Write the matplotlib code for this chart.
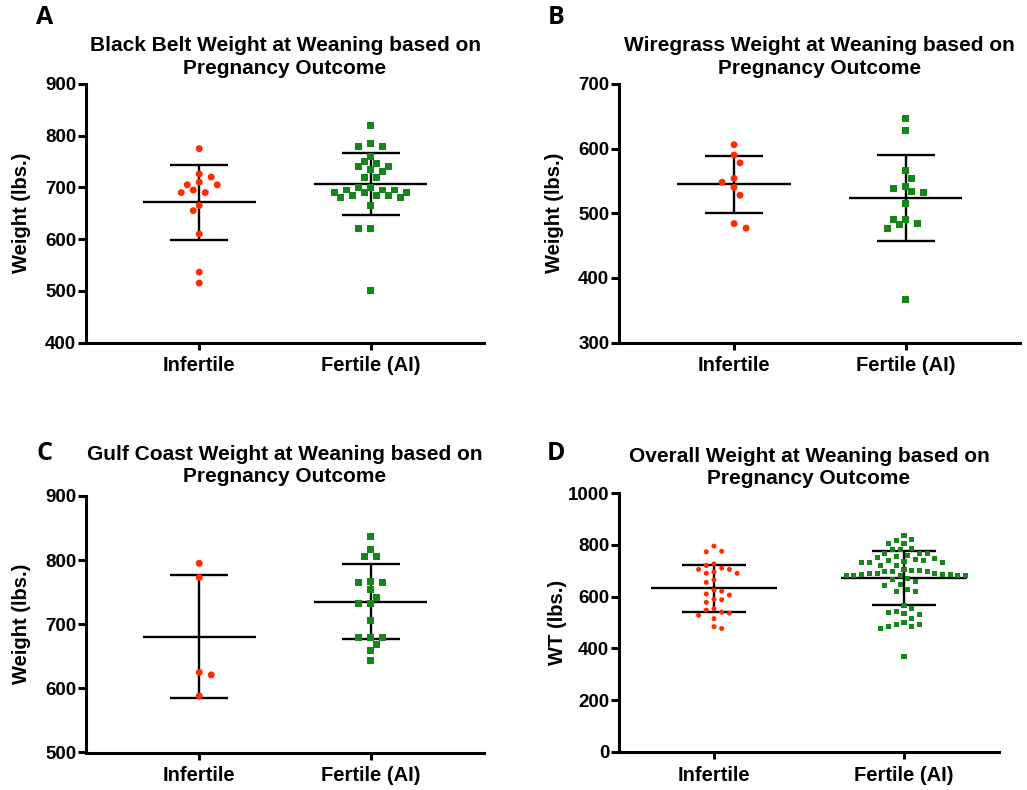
import numpy as np
import matplotlib
matplotlib.use("Agg")
import matplotlib.pyplot as plt

# ---------------------------------------------------------------- data
GROUPS = ["Infertile", "Fertile (AI)"]

black_belt_infertile = [775, 726, 720, 710, 705, 705, 695, 690, 690, 665, 655,
                        610, 536, 515]
black_belt_fertile = [820, 785, 780, 780, 760, 750, 746, 740, 740, 735, 730,
                      720, 720, 700, 700, 695, 695, 695, 690, 690, 690, 685,
                      685, 685, 680, 680, 665, 621, 621, 500]

wiregrass_infertile = [606, 590, 578, 554, 548, 540, 528, 484, 477]
wiregrass_fertile = [646, 628, 566, 554, 542, 538, 534, 532, 515, 491, 491,
                     484, 483, 477, 367]

gulf_coast_infertile = [795, 773, 625, 621, 588]
gulf_coast_fertile = [837, 817, 805, 805, 767, 765, 765, 754, 742, 732, 732,
                      706, 680, 680, 680, 669, 659, 643]

overall_infertile = black_belt_infertile + wiregrass_infertile + gulf_coast_infertile
overall_fertile = black_belt_fertile + wiregrass_fertile + gulf_coast_fertile

TITLES = [
    "Black Belt Weight at Weaning based on\nPregnancy Outcome",
    "Wiregrass Weight at Weaning based on\nPregnancy Outcome",
    "Gulf Coast Weight at Weaning based on\nPregnancy Outcome",
    "Overall Weight at Weaning based on\nPregnancy Outcome",
]
PANEL_LETTERS = ["A", "B", "C", "D"]
Y_LABELS = ["Weight (lbs.)", "Weight (lbs.)", "Weight (lbs.)", "WT (lbs.)"]
Y_TICKS = [
    [400, 500, 600, 700, 800, 900],
    [300, 400, 500, 600, 700],
    [500, 600, 700, 800, 900],
    [0, 200, 400, 600, 800, 1000],
]
SERIES = [
    (black_belt_infertile, black_belt_fertile),
    (wiregrass_infertile, wiregrass_fertile),
    (gulf_coast_infertile, gulf_coast_fertile),
    (overall_infertile, overall_fertile),
]

# ---------------------------------------------------------------- style
RED = "#ff2a00"
GREEN = "#16851a"
FONT = "Liberation Sans"
plt.rcParams["font.family"] = [FONT, "DejaVu Sans"]
plt.rcParams["font.weight"] = "bold"

FIG_W, FIG_H = 1027, 790
DPI = 100
fig = plt.figure(figsize=(FIG_W / DPI, FIG_H / DPI), dpi=DPI)


def px_rect(left, top, right, bottom):
    return [left / FIG_W, 1 - bottom / FIG_H,
            (right - left) / FIG_W, (bottom - top) / FIG_H]


layout = [
    # rect, xlim, title pad, letter xy, marker area, collision px, grid step px
    dict(rect=px_rect(86, 84, 484, 342.5), xlim=(-0.66, 1.66), pad=7.5,
         letter=(45, 18), s=25, coll=7.8, step=6.0),
    dict(rect=px_rect(619, 84, 1020, 342.5), xlim=(-0.67, 1.665), pad=7.5,
         letter=(556, 18), s=25, coll=7.8, step=6.0),
    dict(rect=px_rect(86, 496, 484, 752.5), xlim=(-0.66, 1.66), pad=10.0,
         letter=(44, 454), s=25, coll=7.8, step=6.0),
    dict(rect=px_rect(619, 493, 999, 752), xlim=(-0.5, 1.5), pad=6.5,
         letter=(556, 454), s=13, coll=7.5, step=3.85),
]


def swarm_x(ax, center, values, coll_px, step_px):
    """Place points on a half-step grid so that no two markers overlap."""
    vals = np.asarray(values, dtype=float)
    n = len(vals)
    disp = ax.transData.transform(np.column_stack([np.full(n, center), vals]))
    y = disp[:, 1]
    order = np.argsort(-vals, kind="stable")
    px_list, py_list = [], []
    offs = np.zeros(n)
    toggle = 1
    for i in order:
        chosen = None
        k = 0
        while chosen is None:
            cands = [0.0] if k == 0 else [k * step_px, -k * step_px]
            free = [c for c in cands
                    if all((c - a) ** 2 + (y[i] - b) ** 2 >= coll_px ** 2 - 1e-9
                           for a, b in zip(px_list, py_list))]
            if len(free) == 2:
                near = sum(a for a, b in zip(px_list, py_list)
                           if abs(b - y[i]) < 2 * coll_px)
                if abs(near) < 1e-9:
                    chosen = free[0] if toggle > 0 else free[1]
                    toggle = -toggle
                else:
                    chosen = free[1] if near > 0 else free[0]
            elif free:
                chosen = free[0]
            k += 1
        offs[i] = chosen
        px_list.append(chosen)
        py_list.append(y[i])
    back = ax.transData.inverted().transform(
        np.column_stack([disp[:, 0] + offs, y]))
    return back[:, 0]


LW_AXIS = 2.2
LW_STAT = 1.7

for k in range(4):
    cfg = layout[k]
    ax = fig.add_axes(cfg["rect"])
    ticks = Y_TICKS[k]
    ax.set_xlim(*cfg["xlim"])
    ax.set_ylim(ticks[0], ticks[-1])

    for sp in ("top", "right"):
        ax.spines[sp].set_visible(False)
    for sp in ("left", "bottom"):
        ax.spines[sp].set_linewidth(LW_AXIS)
        ax.spines[sp].set_capstyle("projecting")
        ax.spines[sp].set_clip_on(False)

    ax.set_yticks(ticks)
    ax.set_xticks([0, 1])
    ax.set_xticklabels(GROUPS)
    ax.tick_params(axis="y", direction="out", length=5.5, width=LW_AXIS,
                   labelsize=13.5, pad=1.5)
    ax.tick_params(axis="x", direction="out", length=5, width=LW_AXIS,
                   labelsize=14.5, pad=5)
    for lab in ax.get_xticklabels() + ax.get_yticklabels():
        lab.set_fontweight("bold")

    ax.set_title(TITLES[k], fontsize=15, fontweight="bold", pad=cfg["pad"],
                 linespacing=1.22)
    ax.set_ylabel(Y_LABELS[k], fontsize=14.5, fontweight="bold")
    ax.yaxis.label.set_va("center")
    ax.yaxis.set_label_coords(-0.162, 0.5)

    for gi, (vals, color, marker) in enumerate(
            [(SERIES[k][0], RED, "o"), (SERIES[k][1], GREEN, "s")]):
        vals = np.asarray(vals, dtype=float)
        xs = swarm_x(ax, gi, vals, cfg["coll"], cfg["step"])
        ax.scatter(xs, vals, s=cfg["s"], marker=marker, color=color,
                   edgecolors="none", zorder=3, clip_on=False)
        mean = vals.mean()
        sd = vals.std(ddof=1)
        ax.hlines(mean, gi - 0.33, gi + 0.33, color="black", lw=LW_STAT, zorder=2)
        ax.vlines(gi, mean - sd, mean + sd, color="black", lw=LW_STAT, zorder=2)
        ax.hlines([mean - sd, mean + sd], gi - 0.17, gi + 0.17, color="black",
                  lw=LW_STAT, zorder=2)

    lx, ly = cfg["letter"]
    fig.text(lx / FIG_W, 1 - ly / FIG_H, PANEL_LETTERS[k], fontsize=18,
             fontweight="bold", family=["Open Sans", "DejaVu Sans"],
             ha="center", va="center")

fig.savefig("out.png", dpi=DPI, facecolor="white")
